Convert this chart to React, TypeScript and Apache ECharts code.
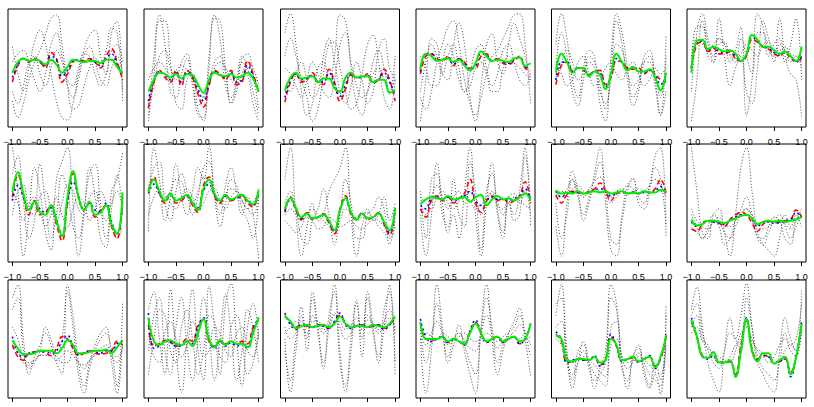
import React, { useEffect, useRef } from "react";
import * as echarts from "echarts";

// x positions at which every curve was read
const X_VALUES = [-1, -0.9, -0.8, -0.7, -0.6, -0.5, -0.4, -0.3, -0.2, -0.1, 0, 0.1, 0.2, 0.3, 0.4, 0.5, 0.6, 0.7, 0.8, 0.9, 1];
const TICKS = [-1, -0.5, 0, 0.5, 1];
const TICK_LABELS = ["\u22121.0", "\u22120.5", "0.0", "0.5", "1.0"];

// y values are read as percent of the panel height (0 = bottom, 100 = top)
const GREEN_VALUES = [
  [46,55,58,56,57,56,53,57,53,46,51,57,56,55,56,56,54,57,57,51,45],
  [30,40,46,45,42,45,41,45,44,36,29,40,46,44,43,45,42,43,46,41,30],
  [31,42,46,41,42,43,38,41,41,33,30,42,46,42,43,43,38,40,40,29,31],
  [49,62,60,56,57,58,55,57,52,48,54,64,60,56,57,56,55,58,59,52,54],
  [46,62,55,46,50,50,43,47,44,32,45,62,55,48,51,47,47,49,42,31,46],
  [46,73,74,66,68,66,64,65,62,56,62,78,74,68,68,65,62,64,60,56,68],
  [59,76,58,44,51,42,40,48,35,22,55,77,55,44,51,40,42,48,32,24,59],
  [59,70,60,52,58,52,54,57,50,44,62,70,58,52,57,53,55,57,52,49,61],
  [45,54,46,38,41,37,38,40,35,27,44,54,42,36,41,37,38,41,34,27,46],
  [49,53,55,54,53,56,53,54,55,51,55,57,48,53,56,53,54,52,55,58,52],
  [61,58,59,58,60,58,59,60,59,60,58,59,60,58,59,58,60,59,59,61,60],
  [36,31,32,35,35,34,33,35,37,39,40,37,32,34,35,34,35,34,35,36,38],
  [49,42,37,37,38,40,40,40,38,42,49,45,38,38,39,40,40,41,38,43,49],
  [68,48,45,48,49,46,45,48,44,55,67,50,43,49,45,48,46,46,43,55,68],
  [69,65,59,61,62,60,61,62,60,63,69,63,60,61,61,60,62,61,60,63,69],
  [64,50,50,50,52,48,50,48,46,55,63,55,48,50,52,48,50,52,48,50,63],
  [53,50,32,31,33,33,32,35,30,32,50,45,32,33,35,31,33,35,26,35,52],
  [66,52,35,34,39,30,30,32,18,40,67,40,31,38,38,29,32,35,20,35,63],
];

const RED_VALUES = [
  [38,52,58,55,58,55,50,63,58,38,45,55,57,56,58,55,50,60,66,55,40],
  [16,38,48,42,38,48,35,48,42,28,17,35,48,45,40,48,36,38,56,45,30],
  [21,38,45,38,40,46,38,36,49,38,22,32,44,42,42,45,38,40,49,40,22],
  [45,60,62,58,56,60,52,58,55,50,50,60,62,56,58,54,53,56,60,50,48],
  [36,52,55,48,50,48,45,47,48,36,42,56,55,50,49,50,45,48,45,40,38],
  [50,70,72,64,67,62,62,64,58,56,60,74,72,68,66,62,60,64,58,56,58],
  [55,74,56,40,52,40,42,48,32,18,50,75,55,44,50,38,44,48,30,20,55],
  [60,72,58,50,58,50,52,56,48,42,65,72,56,50,56,52,54,56,50,47,62],
  [42,55,44,36,42,36,38,41,33,24,45,56,40,36,42,36,38,42,32,23,44],
  [45,38,52,56,52,55,50,54,58,70,50,42,52,56,52,54,50,52,56,68,50],
  [57,50,57,60,59,58,60,62,67,60,52,58,60,58,59,58,60,59,62,70,58],
  [28,26,32,35,34,33,30,36,40,42,40,33,26,32,35,33,34,35,36,44,38],
  [45,35,32,38,39,40,38,36,42,52,50,42,36,38,40,38,37,38,40,48,45],
  [62,44,46,49,48,44,46,50,48,62,66,48,44,48,46,48,46,48,46,60,66],
  [70,64,60,62,61,60,62,61,59,64,70,64,60,61,62,60,61,62,59,62,68],
  [64,50,49,50,52,47,50,48,45,56,64,56,47,50,52,47,50,52,46,50,62],
  [54,48,30,31,33,32,32,35,28,33,52,44,32,33,34,31,33,35,27,33,52],
  [64,52,36,34,36,31,30,31,20,45,65,42,33,36,35,30,31,33,22,35,62],
];

const BLUE_VALUES = [
  [42,53,58,56,57,55,52,60,57,43,48,56,57,55,57,55,52,58,62,53,43],
  [22,40,47,44,40,46,38,46,43,32,22,37,47,44,42,46,38,40,52,43,30],
  [25,40,45,40,41,44,38,38,46,36,26,36,45,42,42,44,38,40,46,38,27],
  [47,62,62,57,57,59,53,58,54,49,52,62,61,56,58,55,54,57,59,51,50],
  [40,55,55,47,50,49,44,47,46,34,44,58,55,49,50,48,46,48,44,36,42],
  [50,72,73,65,68,64,63,65,60,56,61,76,73,68,67,63,61,64,60,55,60],
  [52,65,55,44,50,45,42,46,36,22,50,68,56,45,50,44,43,50,34,24,52],
  [58,66,58,52,57,53,54,56,50,46,60,66,57,52,56,53,54,56,52,48,60],
  [43,53,45,37,41,37,38,40,34,26,44,54,42,37,41,37,38,41,33,25,45],
  [48,45,54,55,53,55,52,54,56,60,52,48,52,55,53,54,52,54,56,62,50],
  [60,55,58,59,59,58,59,61,62,60,56,58,59,58,59,58,59,59,60,64,58],
  [34,30,33,35,34,33,32,35,38,40,40,36,30,34,34,33,33,35,36,42,38],
  [52,38,35,38,39,40,39,38,40,48,53,44,37,38,40,39,38,40,40,46,48],
  [72,42,44,48,47,44,44,48,46,60,68,50,42,48,44,47,44,46,42,58,68],
  [72,62,58,62,61,60,62,61,59,65,72,62,59,61,62,60,61,62,58,62,68],
  [67,52,48,50,52,47,50,48,45,57,66,55,47,50,52,47,50,52,46,50,63],
  [56,50,30,32,33,32,32,36,27,32,54,44,31,33,35,30,33,36,25,34,53],
  [68,52,35,33,36,30,30,31,18,42,68,40,32,36,35,30,31,34,18,34,65],
];

const GREY_VALUES = [
  [
    [68,45,31,50,72,82,70,45,22,8,6,20,45,65,78,82,60,45,80,90,22],
    [22,8,20,40,55,65,78,92,95,70,35,15,18,35,50,58,55,65,84,80,30],
    [55,62,65,55,40,30,45,70,80,60,40,35,50,62,60,45,35,45,65,70,55],
    [30,20,35,55,60,45,35,50,65,55,35,25,40,60,68,55,40,35,50,60,45],
  ],
  [
    [5,45,90,90,55,20,15,40,45,15,5,50,92,90,50,20,35,55,45,20,5],
    [20,35,60,65,50,40,55,62,40,18,25,40,55,60,45,20,30,58,62,45,15],
    [10,60,95,70,30,25,45,58,35,10,8,60,95,75,35,25,40,60,50,30,10],
    [40,50,55,50,45,48,52,48,40,30,25,35,50,55,50,40,35,45,55,50,35],
  ],
  [
    [80,96,70,30,10,20,50,55,40,60,95,90,50,20,10,30,55,65,50,30,60],
    [60,75,60,40,25,5,15,45,70,72,50,30,15,20,45,70,78,55,25,15,40],
    [35,30,45,55,40,25,30,60,75,55,30,20,35,55,40,20,30,65,75,50,40],
    [50,45,35,25,40,55,45,30,25,40,70,80,55,35,25,30,45,50,40,28,45],
  ],
  [
    [5,40,75,70,45,40,70,88,70,25,5,35,70,79,55,45,70,88,75,60,40],
    [25,15,30,55,70,85,90,70,40,20,10,25,45,60,65,75,85,95,96,70,20],
    [30,55,70,60,45,60,70,50,30,35,50,55,45,30,30,50,60,55,50,45,40],
    [60,50,35,35,55,70,60,40,30,45,65,70,50,35,45,65,70,55,40,35,45],
  ],
  [
    [70,96,75,40,25,50,65,60,20,5,60,96,80,50,25,35,60,65,40,10,78],
    [50,80,60,30,18,40,60,55,35,15,50,90,70,40,18,30,55,60,45,25,60],
    [40,55,65,55,40,45,55,50,30,20,40,70,65,45,35,40,55,55,35,10,30],
    [55,45,35,40,55,60,45,35,40,50,55,45,40,50,55,45,35,40,50,45,50],
  ],
  [
    [5,40,90,70,55,92,60,35,50,60,30,20,50,90,75,55,92,60,45,40,8],
    [30,80,96,75,60,75,70,55,65,85,10,40,96,85,60,70,75,55,70,92,40],
    [50,85,85,60,55,70,72,60,55,75,60,45,80,80,65,60,70,65,55,60,50],
    [60,75,70,65,70,75,70,62,58,62,70,65,60,70,72,65,65,68,62,60,55],
  ],
  [
    [97,60,5,40,80,60,25,10,70,85,97,50,5,40,80,55,20,12,60,70,93],
    [75,90,50,20,35,83,50,20,40,74,60,30,20,45,75,83,50,20,45,74,40],
    [60,50,35,50,55,45,30,40,55,40,30,45,55,50,35,45,60,50,30,20,30],
    [40,60,65,45,40,55,60,45,35,50,65,60,45,40,55,60,45,35,50,60,45],
  ],
  [
    [26,97,70,35,55,83,55,40,60,80,70,98,60,40,65,80,60,40,55,40,3],
    [60,80,85,50,35,60,75,60,40,55,80,85,55,30,50,70,65,45,35,20,55],
    [65,70,60,55,60,70,68,55,50,60,72,68,55,50,58,62,60,52,45,40,55],
    [40,55,62,58,50,45,55,62,55,45,50,60,62,52,45,55,60,52,45,50,60],
  ],
  [
    [70,97,40,5,30,50,35,40,60,70,80,97,40,5,30,45,35,40,55,35,50],
    [50,60,45,20,15,35,45,62,40,15,40,70,50,20,20,40,45,55,45,15,35],
    [40,45,40,35,40,45,40,35,30,25,35,45,42,35,38,42,38,35,30,22,38],
    [35,30,25,30,38,35,28,30,38,35,30,32,35,30,28,32,36,30,25,20,30],
  ],
  [
    [40,5,40,84,50,25,40,20,60,97,40,5,50,84,45,25,50,40,60,97,30],
    [60,20,70,75,40,30,70,40,30,85,60,10,60,75,40,20,55,35,40,90,50],
    [50,40,55,65,55,45,55,60,50,60,55,40,50,60,50,40,50,55,50,60,40],
    [55,50,45,55,60,50,45,52,58,52,45,48,55,58,48,45,55,58,52,48,45],
  ],
  [
    [30,5,50,77,60,35,50,75,97,50,10,5,40,65,71,50,45,60,90,97,22],
    [50,20,40,70,55,40,55,70,85,60,20,15,35,60,70,55,50,65,80,70,30],
    [60,55,62,70,60,55,62,68,72,62,50,55,60,65,62,58,60,65,70,65,55],
    [55,60,58,62,65,60,58,62,60,58,55,60,62,58,60,62,60,58,62,60,58],
  ],
  [
    [97,60,25,20,40,45,25,5,40,80,97,60,25,15,10,5,20,40,30,40,30],
    [40,30,20,25,35,30,15,20,35,45,55,40,20,15,25,35,40,30,20,30,40],
    [30,25,20,30,40,35,25,20,30,40,45,35,22,20,30,38,35,20,15,35,42],
    [45,35,30,28,35,38,32,30,35,42,45,40,32,28,30,34,36,32,28,36,45],
  ],
  [
    [85,96,50,20,35,45,55,45,30,20,96,70,30,10,30,45,55,60,30,4,50],
    [75,85,40,25,30,40,60,50,35,50,90,60,20,4,25,40,50,55,40,10,80],
    [60,50,35,30,32,36,40,38,35,30,30,40,30,25,32,38,42,45,35,30,45],
    [45,40,30,28,32,36,36,35,32,36,40,36,30,28,32,36,38,40,36,35,42],
  ],
  [
    [75,90,50,20,92,40,5,50,92,40,15,95,60,20,80,97,50,10,60,80,50],
    [40,70,85,40,20,60,85,45,15,50,85,55,15,50,88,55,15,40,75,60,30],
    [20,50,75,70,40,30,60,75,50,20,40,70,65,35,30,60,70,50,20,30,60],
    [55,35,30,55,65,50,35,45,65,55,35,40,60,55,40,35,55,60,40,35,55],
  ],
  [
    [50,5,40,77,50,90,60,30,60,96,40,5,40,83,50,90,60,30,60,96,20],
    [40,15,50,70,40,85,55,25,70,90,30,10,50,80,35,85,55,35,75,90,30],
    [60,50,55,65,60,70,62,55,62,72,60,50,55,68,60,70,62,55,65,75,55],
    [55,60,65,60,55,65,65,58,60,70,65,58,62,62,58,66,64,58,62,68,60],
  ],
  [
    [50,4,40,96,60,30,45,62,40,20,4,60,96,50,20,40,55,65,76,50,19],
    [60,30,50,80,55,35,50,55,45,30,20,55,85,60,30,45,55,60,70,55,35],
    [55,45,55,65,55,45,50,55,48,42,40,55,70,55,42,48,52,56,62,55,45],
    [50,55,52,50,55,52,48,52,55,50,48,50,55,52,48,52,55,52,50,55,50],
  ],
  [
    [70,96,40,8,30,48,30,8,25,40,96,80,30,8,35,45,20,8,20,3,78],
    [80,85,30,15,40,45,25,15,20,30,85,75,25,15,35,42,25,10,30,15,70],
    [60,65,35,20,30,40,30,20,15,10,60,65,35,25,30,38,30,20,15,10,55],
    [50,45,35,30,32,35,32,28,22,18,45,50,35,30,32,35,32,28,22,20,45],
  ],
  [
    [75,94,60,30,15,5,40,68,50,70,97,60,30,20,10,5,40,68,50,40,91],
    [70,80,55,40,30,25,40,55,50,40,85,60,35,25,20,15,30,55,45,50,80],
    [60,70,50,45,35,30,30,35,45,50,65,50,40,35,30,35,45,50,40,35,60],
    [55,60,48,42,38,35,32,30,40,55,60,48,42,38,35,30,30,40,45,40,55],
  ],
];

const ROWS = 3;
const COLS = 6;
const COL_LEFTS = [8, 144, 280.5, 416, 551.5, 687];
const ROW_TOPS = [9, 144, 280];
const BOX_W = 119;
const BOX_H = 118;

function pairs(values: number[]) {
  return X_VALUES.map((x, i) => [x, values[i]]);
}

export default function App() {
  const ref = useRef<HTMLDivElement>(null);

  useEffect(() => {
    if (!ref.current) return;
    const chart = echarts.init(ref.current, null, { renderer: "svg" });
    const grids: any[] = [];
    const xAxes: any[] = [];
    const yAxes: any[] = [];
    const series: any[] = [];
    const font = "'Liberation Sans', Arial, Helvetica, sans-serif";

    for (let k = 0; k < ROWS * COLS; k++) {
      const r = Math.floor(k / COLS);
      const c = k % COLS;
      grids.push({
        left: COL_LEFTS[c],
        top: ROW_TOPS[r],
        width: BOX_W,
        height: BOX_H,
        show: true,
        borderColor: "#000",
        borderWidth: 1,
        backgroundColor: "transparent",
      });
      xAxes.push({
        type: "value",
        gridIndex: k,
        min: -1.08,
        max: 1.08,
        axisLine: { show: false },
        splitLine: { show: false },
        axisTick: {
          show: true,
          length: 4,
          inside: false,
          customValues: TICKS,
          lineStyle: { color: "#000", width: 1 },
        },
        axisLabel: {
          // the bottom row's labels fall below the edge of the picture
          show: r < ROWS - 1,
          customValues: TICKS,
          margin: 10,
          fontSize: 9,
          color: "#000",
          fontFamily: font,
          formatter: (v: number) => {
            const idx = TICKS.findIndex((t) => Math.abs(t - v) < 1e-6);
            return idx >= 0 ? TICK_LABELS[idx] : "";
          },
        },
      });
      yAxes.push({
        type: "value",
        gridIndex: k,
        min: 0,
        max: 100,
        show: false,
        splitLine: { show: false },
      });

      GREY_VALUES[k].forEach((g, j) => {
        series.push({
          type: "line",
          name: `grey${k}_${j}`,
          xAxisIndex: k,
          yAxisIndex: k,
          data: pairs(g),
          smooth: 0.45,
          symbol: "none",
          silent: true,
          lineStyle: { color: "#4a4a4a", width: 1, type: [1, 2] },
          z: 1,
        });
      });
      series.push({
        type: "line",
        xAxisIndex: k,
        yAxisIndex: k,
        data: pairs(RED_VALUES[k]),
        smooth: 0.45,
        symbol: "none",
        silent: true,
        lineStyle: { color: "#ff0000", width: 1.6, type: [5, 3] },
        z: 2,
      });
      series.push({
        type: "line",
        xAxisIndex: k,
        yAxisIndex: k,
        data: pairs(BLUE_VALUES[k]),
        smooth: 0.45,
        symbol: "none",
        silent: true,
        lineStyle: { color: "#0000ff", width: 1.6, type: [2, 3] },
        z: 3,
      });
      series.push({
        type: "line",
        xAxisIndex: k,
        yAxisIndex: k,
        data: pairs(GREEN_VALUES[k]),
        smooth: 0.45,
        symbol: "none",
        silent: true,
        lineStyle: { color: "#00ee00", width: 2, type: "solid" },
        z: 4,
      });
    }

    chart.setOption({
      animation: false,
      backgroundColor: "#fff",
      grid: grids,
      xAxis: xAxes,
      yAxis: yAxes,
      series,
    });
    return () => chart.dispose();
  }, []);

  return (
    <div
      ref={ref}
      style={{ position: "fixed", left: 0, top: 0, width: 814, height: 407, background: "#fff" }}
    />
  );
}
